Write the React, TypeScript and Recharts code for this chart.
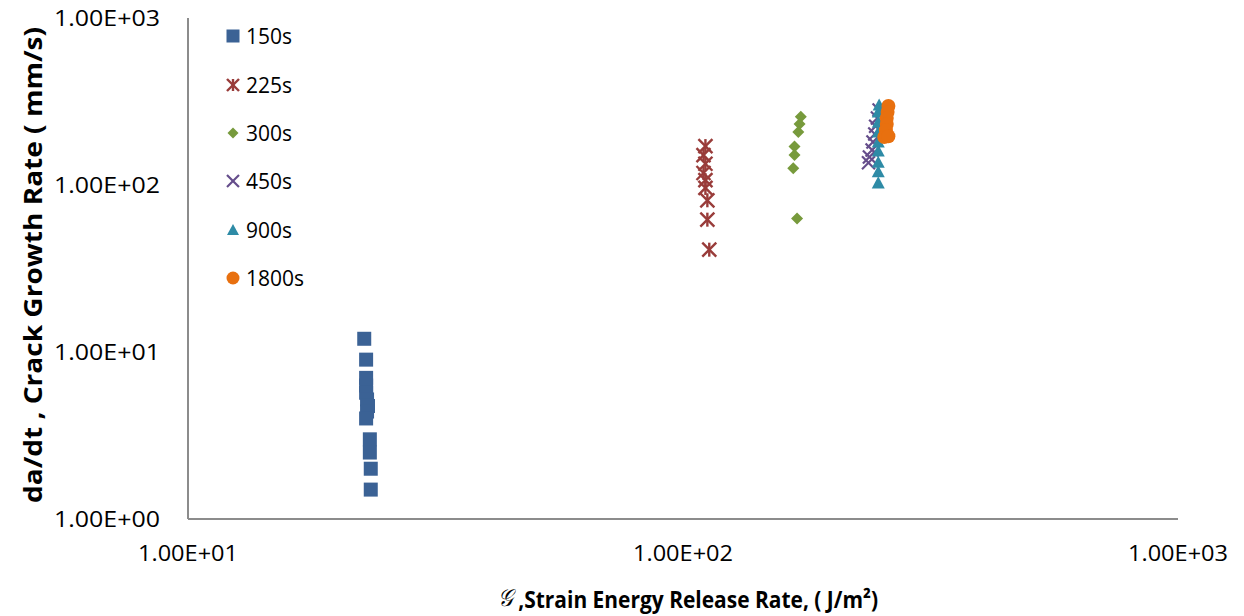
import React from 'react';
import { ScatterChart, Scatter, XAxis, YAxis, Legend, Label } from 'recharts';

const seriesNames = ['150s', '225s', '300s', '450s', '900s', '1800s'];
const seriesColors = ['#3B6295', '#993C3A', '#779A3C', '#654D8B', '#2E8BA6', '#E8700F'];

const s150x = [22.7, 22.9, 22.9, 22.9, 22.9, 23.0, 23.1, 23.0, 22.9, 23.3, 23.3, 23.4, 23.4];
const s150y = [12.0, 9.0, 7.0, 6.3, 5.7, 5.2, 4.75, 4.4, 4.0, 3.0, 2.5, 2.0, 1.5];

const s225x = [111, 110, 111, 110, 111, 111, 112, 112, 113];
const s225y = [171, 151, 134, 118, 107, 96, 81, 62, 41];

const s300x = [173, 172, 171, 168, 168, 167, 170];
const s300y = [256, 232, 208, 170, 151, 126, 63];

const s450x = [249, 247, 245, 244, 242, 241, 238, 237];
const s450y = [281, 252, 225, 202, 181, 162, 147, 136];

const s900x = [248, 248, 248, 248, 248, 248, 248, 248, 249];
const s900y = [103, 120, 137, 160, 181, 208, 238, 274, 301];

const s1800x = [260, 259, 258, 258, 257, 255, 260];
const s1800y = [297, 274, 252, 232, 213, 194, 196];

const xTicks = [10, 100, 1000];
const xTickLabels = ['1.00E+01', '1.00E+02', '1.00E+03'];
const yTicks = [1, 10, 100, 1000];
const yTickLabels = ['1.00E+00', '1.00E+01', '1.00E+02', '1.00E+03'];

const yTitle = 'da/dt , Crack Growth Rate ( mm/s)';
const xTitleSymbol = '𝒢';
const xTitle = ' ,Strain Energy Release Rate, ( J/m²)';

const toPoints = (xs: number[], ys: number[]) => xs.map((x, i) => ({ x, y: ys[i] }));

const seriesData = [
  toPoints(s150x, s150y),
  toPoints(s225x, s225y),
  toPoints(s300x, s300y),
  toPoints(s450x, s450y),
  toPoints(s900x, s900y),
  toPoints(s1800x, s1800y),
];

const kinds = ['square', 'asterisk', 'diamond', 'x', 'triangle', 'circle'];

function Marker({ kind, cx, cy, color, s }: { kind: string; cx: number; cy: number; color: string; s: number }) {
  const h = s / 2;
  switch (kind) {
    case 'square':
      return <rect x={cx - h} y={cy - h} width={s} height={s} fill={color} />;
    case 'asterisk':
      return (
        <g stroke={color} strokeWidth={2.4} strokeLinecap="butt">
          <line x1={cx - h} y1={cy - h} x2={cx + h} y2={cy + h} />
          <line x1={cx + h} y1={cy - h} x2={cx - h} y2={cy + h} />
          <line x1={cx} y1={cy - h} x2={cx} y2={cy + h} />
        </g>
      );
    case 'diamond':
      return <polygon points={`${cx},${cy - h} ${cx + h},${cy} ${cx},${cy + h} ${cx - h},${cy}`} fill={color} />;
    case 'x':
      return (
        <g stroke={color} strokeWidth={2.2}>
          <line x1={cx - h} y1={cy - h} x2={cx + h} y2={cy + h} />
          <line x1={cx + h} y1={cy - h} x2={cx - h} y2={cy + h} />
        </g>
      );
    case 'triangle':
      return <polygon points={`${cx},${cy - h} ${cx + h},${cy + h * 0.85} ${cx - h},${cy + h * 0.85}`} fill={color} />;
    default:
      return <circle cx={cx} cy={cy} r={h} fill={color} />;
  }
}

const markerSizes = [14, 14, 12, 13, 13, 14];
const legendSizes = [13, 12, 11, 12, 12, 13];

const makeShape = (i: number) => (props: any) => {
  const { cx, cy } = props;
  if (cx == null || cy == null) return <g />;
  return <Marker kind={kinds[i]} cx={cx} cy={cy} color={seriesColors[i]} s={markerSizes[i]} />;
};

const YTick = (props: any) => {
  const { y, payload } = props;
  const idx = yTicks.indexOf(payload.value);
  return (
    <text x={152} y={y} textAnchor="end" dominantBaseline="central" fontFamily="'Open Sans', sans-serif" fontSize={21} fill="#000" textLength={106} lengthAdjust="spacingAndGlyphs">
      {yTickLabels[idx]}
    </text>
  );
};

const XTick = (props: any) => {
  const { x, payload } = props;
  const idx = xTicks.indexOf(payload.value);
  return (
    <text x={x} y={545} textAnchor="middle" dominantBaseline="central" fontFamily="'Open Sans', sans-serif" fontSize={21} fill="#000" textLength={100} lengthAdjust="spacingAndGlyphs">
      {xTickLabels[idx]}
    </text>
  );
};

const LegendContent = () => (
  <div style={{ fontFamily: "'Open Sans', sans-serif", fontSize: 21, color: '#000' }}>
    {seriesNames.map((name, i) => (
      <div key={name} style={{ height: 48.4, display: 'flex', alignItems: 'center' }}>
        <svg width={16} height={16} style={{ marginRight: 5 }}>
          <Marker kind={kinds[i]} cx={8} cy={8} color={seriesColors[i]} s={legendSizes[i]} />
        </svg>
        <span>{name}</span>
      </div>
    ))}
  </div>
);

export default function App() {
  return (
    <div>
      <style>{`.recharts-surface{overflow:visible}`}</style>
      <ScatterChart width={1236} height={608} margin={{ top: 10, right: 66, left: 100, bottom: 37 }}>
        <XAxis
          dataKey="x"
          type="number"
          scale="log"
          domain={[10, 1000]}
          ticks={xTicks}
          allowDataOverflow
          height={60}
          tickLine={false}
          axisLine={{ stroke: '#8c8c8c', strokeWidth: 2 }}
          tick={<XTick />}
          interval={0}
        >
          <Label
            content={() => (
              <text x={680} y={590} textAnchor="middle" dominantBaseline="central" fontFamily="'Open Sans', sans-serif" fontSize={24} fontWeight="bold" fill="#000" textLength={380} lengthAdjust="spacingAndGlyphs">
                <tspan fontStyle="italic" fontWeight="normal" fontFamily="'DejaVu Serif', 'DejaVu Sans', serif">{xTitleSymbol}</tspan>
                {xTitle}
              </text>
            )}
          />
        </XAxis>
        <YAxis
          dataKey="y"
          type="number"
          scale="log"
          domain={[1, 1000]}
          ticks={yTicks}
          allowDataOverflow
          width={80}
          tickLine={false}
          axisLine={{ stroke: '#8c8c8c', strokeWidth: 2 }}
          tick={<YTick />}
          interval={0}
        >
          <Label
            content={() => (
              <text x={24} y={257} transform="rotate(-90 24 257)" textAnchor="middle" dominantBaseline="central" fontFamily="'Open Sans', sans-serif" fontSize={25} fontWeight="bold" fill="#000" textLength={476} lengthAdjust="spacingAndGlyphs">
                {yTitle}
              </text>
            )}
          />
        </YAxis>
        <Legend
          layout="horizontal"
          verticalAlign="middle"
          align="center"
          wrapperStyle={{ left: 217, top: 4, width: 120 }}
          content={() => <LegendContent />}
        />
        {seriesData.map((data, i) => (
          <Scatter key={seriesNames[i]} name={seriesNames[i]} data={data} fill={seriesColors[i]} shape={makeShape(i)} isAnimationActive={false} />
        ))}
      </ScatterChart>
    </div>
  );
}
